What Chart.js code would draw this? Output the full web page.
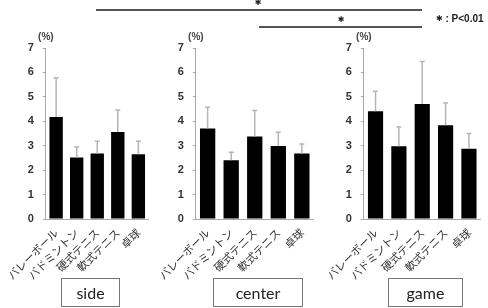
<!DOCTYPE html>
<html>
<head>
<meta charset="utf-8">
<script src="https://cdn.jsdelivr.net/npm/chart.js@4/dist/chart.umd.min.js"></script>
<style>
  html, body { margin: 0; padding: 0; background: #fff; }
  #wrap { position: relative; width: 488px; height: 308px; overflow: hidden; background: #fff; }
  canvas { position: absolute; top: 0; }
  .line { position: absolute; height: 2px; background: #555; }
  .star { position: absolute; font: bold 8px "DejaVu Sans", sans-serif; color: #222; transform: translate(-50%, -50%); line-height: 8px; }
  .legend { position: absolute; font: bold 10px "Liberation Sans", sans-serif; color: #222; }
  .legend b { font: bold 8px "DejaVu Sans", sans-serif; vertical-align: 1px; }
  .box { position: absolute; border: 1px solid #777; box-sizing: border-box; font: 16px "Lato", sans-serif; color: #222;
         display: flex; align-items: center; justify-content: center; }
</style>
</head>
<body>
<div id="wrap">
  <canvas id="c1" width="153" height="300" style="left:0px;width:153px;height:300px"></canvas>
  <canvas id="c2" width="168" height="300" style="left:150px;width:168px;height:300px"></canvas>
  <canvas id="c3" width="167" height="300" style="left:318px;width:167px;height:300px"></canvas>

  <div class="line" style="left:96px;width:326px;top:9px"></div>
  <div class="star" style="left:258px;top:3px">✱</div>
  <div class="line" style="left:259px;width:163px;top:26px"></div>
  <div class="star" style="left:341px;top:20px">✱</div>
  <div class="legend" style="left:436px;top:13px"><b>✱</b> : P&lt;0.01</div>

  <div class="box" style="left:61px;top:278px;width:59px;height:29px">side</div>
  <div class="box" style="left:213px;top:278px;width:90px;height:29px">center</div>
  <div class="box" style="left:388px;top:278px;width:75px;height:29px">game</div>
</div>
<script>
const categories = ["バレーボール", "バドミントン", "硬式テニス", "軟式テニス", "卓球"];
const sideMean   = [4.18, 2.52, 2.68, 3.56, 2.65];
const sideSD     = [1.60, 0.43, 0.50, 0.90, 0.53];
const centerMean = [3.70, 2.40, 3.38, 2.99, 2.68];
const centerSD   = [0.87, 0.33, 1.06, 0.56, 0.39];
const gameMean   = [4.41, 2.98, 4.71, 3.84, 2.88];
const gameSD     = [0.82, 0.79, 1.74, 0.91, 0.62];
const yTicks     = [0, 1, 2, 3, 4, 5, 6, 7];
const yUnit      = "(%)";

const errorBarPlugin = {
  id: 'errorBars',
  afterDatasetsDraw(chart) {
    const ctx = chart.ctx;
    const yScale = chart.scales.y;
    const meta = chart.getDatasetMeta(0);
    const ds = chart.data.datasets[0];
    ctx.save();
    ctx.strokeStyle = '#b5b5b5';
    ctx.lineWidth = 1.5;
    meta.data.forEach((bar, i) => {
      const top = yScale.getPixelForValue(ds.data[i] + ds.errors[i]);
      ctx.beginPath();
      ctx.moveTo(bar.x, bar.y);
      ctx.lineTo(bar.x, top);
      ctx.moveTo(bar.x - 2.5, top);
      ctx.lineTo(bar.x + 2.5, top);
      ctx.stroke();
    });
    ctx.restore();
  }
};

const unitPlugin = {
  id: 'unitLabel',
  afterDraw(chart) {
    const ctx = chart.ctx;
    ctx.save();
    ctx.font = 'bold 10px "Liberation Sans", sans-serif';
    ctx.fillStyle = '#444';
    ctx.textAlign = 'center';
    ctx.textBaseline = 'middle';
    ctx.fillText(yUnit, chart.chartArea.left, 37);
    ctx.restore();
  }
};

function makeChart(id, means, sds, yWidth) {
  return new Chart(document.getElementById(id), {
    type: 'bar',
    data: {
      labels: categories,
      datasets: [{
        data: means,
        errors: sds,
        backgroundColor: '#000',
        borderWidth: 0,
        barPercentage: 0.65,
        categoryPercentage: 1.0
      }]
    },
    options: {
      responsive: false,
      animation: false,
      events: [],
      layout: { autoPadding: false, padding: { top: 48, left: 0, right: 0, bottom: 0 } },
      plugins: { legend: { display: false }, tooltip: { enabled: false } },
      scales: {
        x: {
          grid: { display: false, drawTicks: false },
          border: { display: true, color: '#aaa', width: 1 },
          ticks: {
            autoSkip: false, minRotation: 45, maxRotation: 45, padding: 7,
            color: '#333', font: { family: '"Noto Sans CJK JP", sans-serif', size: 11 }
          },
          afterFit(s) { s.height = 81; }
        },
        y: {
          min: 0, max: 7,
          afterBuildTicks(s) { s.ticks = yTicks.map(v => ({ value: v })); },
          grid: { drawOnChartArea: false, drawTicks: true, tickLength: 3, color: '#aaa' },
          border: { display: true, color: '#aaa', width: 1 },
          ticks: {
            padding: 9, color: '#333',
            font: { family: '"Liberation Sans", sans-serif', size: 11, weight: 'bold' }
          },
          afterFit(s) { s.width = yWidth; }
        }
      }
    },
    plugins: [errorBarPlugin, unitPlugin]
  });
}

makeChart('c1', sideMean, sideSD, 29);
makeChart('c2', centerMean, centerSD, 44);
makeChart('c3', gameMean, gameSD, 43);
</script>
</body>
</html>
